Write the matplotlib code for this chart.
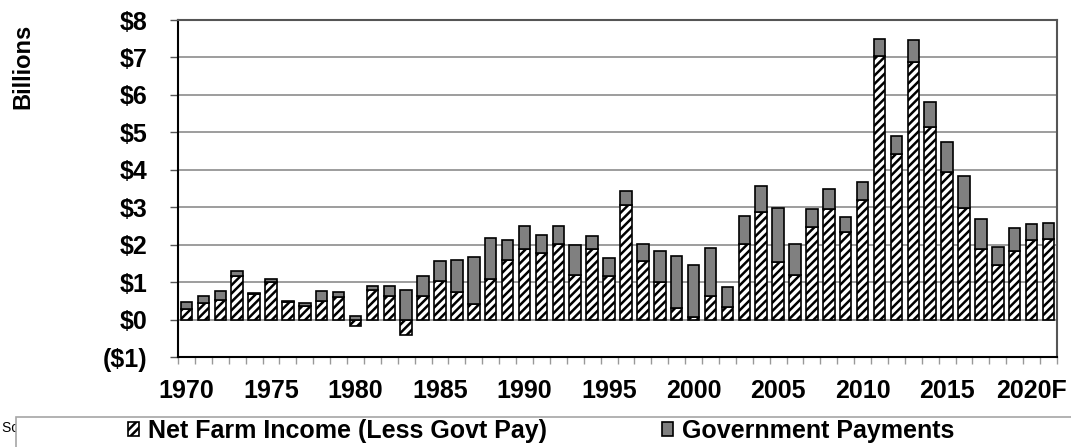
import matplotlib.pyplot as plt
from matplotlib.patches import Rectangle
import numpy as np

plt.rcParams['font.family'] = ['Liberation Sans', 'DejaVu Sans']
plt.rcParams['hatch.linewidth'] = 1.8

years = list(range(1970, 2022))

# net farm income excluding government payments, $ billions
net_income = [0.28, 0.45, 0.53, 1.16, 0.68, 1.01, 0.47, 0.37, 0.49, 0.61,
              -0.18, 0.79, 0.62, -0.40, 0.64, 1.03, 0.73, 0.42, 1.09, 1.60,
              1.88, 1.78, 2.03, 1.19, 1.88, 1.15, 3.06, 1.57, 1.00, 0.31,
              0.06, 0.62, 0.33, 2.03, 2.86, 1.55, 1.20, 2.47, 2.96, 2.33,
              3.18, 7.03, 4.42, 6.87, 5.13, 3.95, 2.98, 1.89, 1.46, 1.84,
              2.13, 2.16]

# government payments, $ billions
govt_payments = [0.20, 0.18, 0.23, 0.15, 0.02, 0.06, 0.02, 0.08, 0.27, 0.13,
                 0.10, 0.11, 0.27, 0.80, 0.53, 0.53, 0.86, 1.26, 1.09, 0.53,
                 0.62, 0.49, 0.47, 0.81, 0.35, 0.50, 0.38, 0.45, 0.82, 1.39,
                 1.39, 1.28, 0.54, 0.73, 0.72, 1.42, 0.81, 0.47, 0.52, 0.42,
                 0.50, 0.46, 0.48, 0.59, 0.68, 0.80, 0.86, 0.80, 0.49, 0.60,
                 0.41, 0.42]

label_years = [1970, 1975, 1980, 1985, 1990, 1995, 2000, 2005, 2010, 2015, 2020]
label_text = ['1970', '1975', '1980', '1985', '1990', '1995', '2000', '2005',
              '2010', '2015', '2020F']

y_ticks = [-1, 0, 1, 2, 3, 4, 5, 6, 7, 8]
y_labels = ['($1)', '$0', '$1', '$2', '$3', '$4', '$5', '$6', '$7', '$8']

fig = plt.figure(figsize=(10.71, 4.47), dpi=100)
ax = fig.add_axes([178 / 1071, 1 - 357 / 447, 879 / 1071, 337 / 447])

x = np.arange(len(years))
net = np.array(net_income)
gov = np.array(govt_payments)
gov_bottom = np.maximum(net, 0)

ax.bar(x, net, width=0.68, color='white', edgecolor='black', linewidth=1.2,
       hatch='////', label='Net Farm Income (Less Govt Pay)', zorder=3)
ax.bar(x, gov, width=0.68, bottom=gov_bottom, color='#808080',
       edgecolor='black', linewidth=1.2, label='Government Payments', zorder=3)

ax.set_xlim(-0.5, len(years) - 0.5)
ax.set_ylim(-1, 8)

ax.set_yticks(y_ticks)
ax.set_yticklabels(y_labels, fontsize=18, fontweight='bold')
ax.yaxis.grid(True, color='#8c8c8c', linewidth=1.2, zorder=0)
ax.tick_params(axis='y', length=6, width=1, color='#555555', pad=16)

pos = [years.index(y) for y in label_years]
ax.set_xticks(pos)
ax.set_xticklabels(label_text, fontsize=18, fontweight='bold')
ax.tick_params(axis='x', which='major', length=0, pad=16)
ax.set_xticks(np.arange(len(years) + 1) - 0.5, minor=True)
ax.tick_params(axis='x', which='minor', length=5, width=1, color='#999999')

for side in ['left', 'bottom']:
    ax.spines[side].set_color('black')
    ax.spines[side].set_linewidth(1.5)
for side in ['top', 'right']:
    ax.spines[side].set_color('#555555')
    ax.spines[side].set_linewidth(1.5)

fig.text(23 / 1071, 1 - 66 / 447, 'Billions', rotation=90, fontsize=17,
         fontweight='bold', ha='center', va='center')

# source note sits under the legend frame
fig.text(2 / 1071, 1 - 428 / 447, 'Source: USDA', fontsize=10,
         ha='left', va='center')
frame = Rectangle((16 / 1071, -0.1), 1.1, (447 - 417) / 447 + 0.1,
                  transform=fig.transFigure, facecolor='white',
                  edgecolor='#a6a6a6', linewidth=1.2, zorder=5)
fig.patches.append(frame)

leg = fig.legend(loc='center left', bbox_to_anchor=(128 / 1071, 1 - 431 / 447),
                 ncol=2, frameon=False,
                 prop={'weight': 'bold', 'size': 18},
                 handlelength=0.45, handleheight=0.45, handletextpad=0.35,
                 columnspacing=4.6, borderpad=0, borderaxespad=0)
leg.set_zorder(6)

fig.savefig('out.png', dpi=100)
